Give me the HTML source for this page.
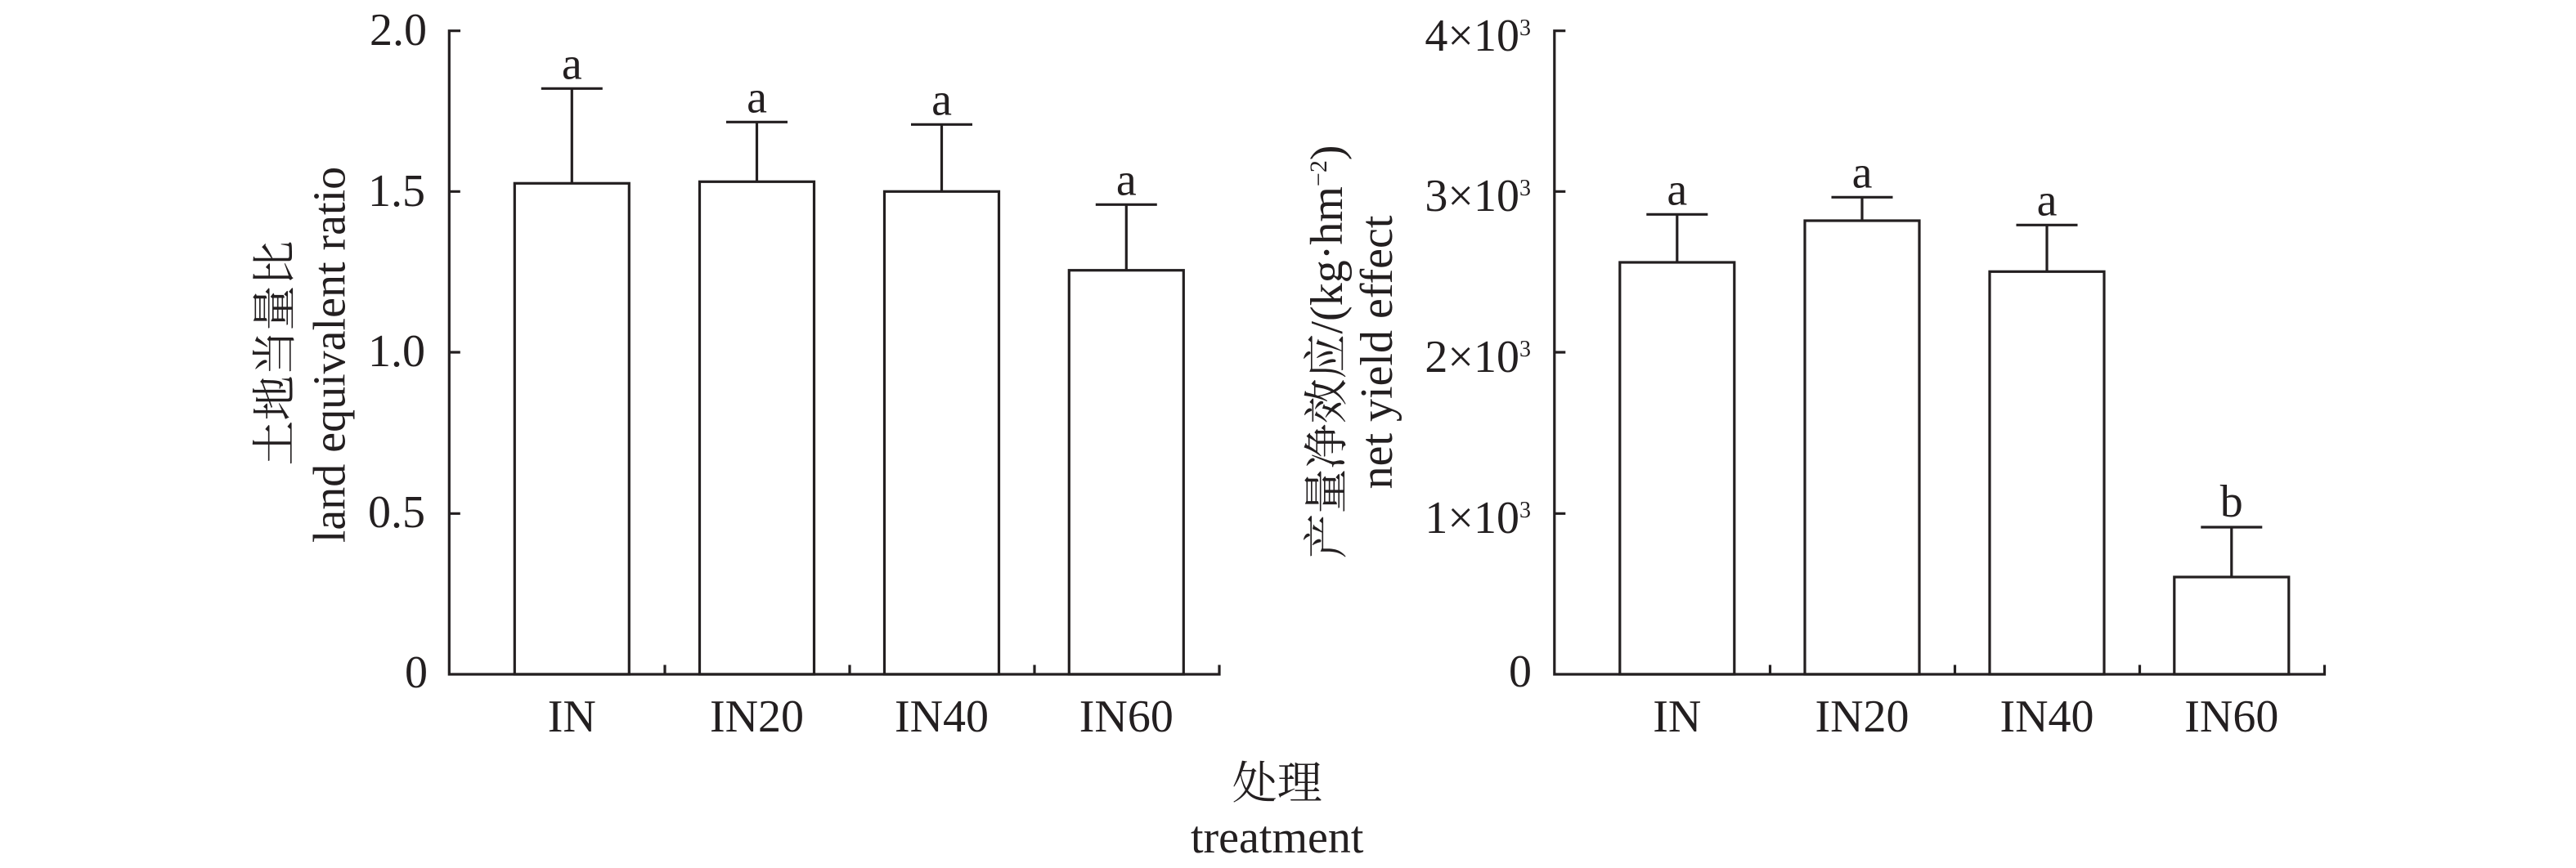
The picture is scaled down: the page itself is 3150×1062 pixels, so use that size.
<!DOCTYPE html>
<html><head><meta charset="utf-8"><style>
html,body{margin:0;padding:0;background:#fff;}
svg{display:block;}
text{font-family:"Liberation Serif","Noto Serif CJK SC",serif;fill:#231f20;font-size:56px;}
.cjk{font-size:55px;}
</style></head><body>
<svg width="3150" height="1062" viewBox="0 0 3150 1062" xmlns="http://www.w3.org/2000/svg">
<rect x="0" y="0" width="3150" height="1062" fill="#fff"/>
<g stroke="#231f20" stroke-width="3.2" fill="none" stroke-linejoin="miter">
  <!-- Left chart axes -->
  <path d="M563,37.7 H549.3 V825 H1491 V813.5"/>
  <path d="M549.3,234.3 h13.5 M549.3,431 h13.5 M549.3,628.3 h13.5"/>
  <path d="M813,825 v-11.5 M1039,825 v-11.5 M1265,825 v-11.5"/>
  <!-- Left bars -->
  <rect x="629.3" y="224.3" width="140" height="600.7"/>
  <rect x="855.5" y="222.3" width="140" height="602.7"/>
  <rect x="1081.5" y="234.3" width="140" height="590.7"/>
  <rect x="1307.3" y="330.7" width="140" height="494.3"/>
  <path d="M699.3,224.3 V108.3 M661.8,108.3 h75"/>
  <path d="M925.5,222.3 V149.3 M888,149.3 h75"/>
  <path d="M1151.5,234.3 V152.3 M1114,152.3 h75"/>
  <path d="M1377.3,330.7 V250.3 M1339.8,250.3 h75"/>

  <!-- Right chart axes -->
  <path d="M1914.3,37.7 H1900.8 V825 H2842.5 V813.5"/>
  <path d="M1900.8,234.3 h13.5 M1900.8,431 h13.5 M1900.8,628.3 h13.5"/>
  <path d="M2164.5,825 v-11.5 M2390.5,825 v-11.5 M2616.5,825 v-11.5"/>
  <!-- Right bars -->
  <rect x="1980.8" y="321" width="140" height="504"/>
  <rect x="2207" y="270" width="140" height="555"/>
  <rect x="2433" y="332.3" width="140" height="492.7"/>
  <rect x="2658.8" y="706" width="140" height="119"/>
  <path d="M2050.8,321 V262.3 M2013.3,262.3 h75"/>
  <path d="M2277,270 V241.3 M2239.5,241.3 h75"/>
  <path d="M2503,332.3 V275.3 M2465.5,275.3 h75"/>
  <path d="M2728.8,706 V645 M2691.3,645 h75"/>
</g>

<!-- Left y tick labels -->
<g text-anchor="end">
  <text x="522" y="55">2.0</text>
  <text x="520" y="252">1.5</text>
  <text x="520" y="448">1.0</text>
  <text x="520" y="645">0.5</text>
  <text x="523" y="841">0</text>
</g>

<!-- Left significance letters -->
<g text-anchor="middle">
  <text x="699.3" y="96.5">a</text>
  <text x="925.5" y="137.5">a</text>
  <text x="1151.5" y="140.5">a</text>
  <text x="1377.3" y="238.5">a</text>
</g>

<!-- Left x tick labels -->
<g text-anchor="middle">
  <text x="699.3" y="895">IN</text>
  <text x="925.5" y="895">IN20</text>
  <text x="1151.5" y="895">IN40</text>
  <text x="1377.3" y="895">IN60</text>
</g>

<!-- Left y label -->
<text class="cjk" text-anchor="middle" transform="translate(355,432) rotate(-90)">土地当量比</text>
<text text-anchor="middle" transform="translate(421.5,434) rotate(-90)">land equivalent ratio</text>

<!-- Right y tick labels -->
<g text-anchor="end">
  <text x="1872" y="62">4×10<tspan font-size="28" dy="-19">3</tspan></text>
  <text x="1872" y="258">3×10<tspan font-size="28" dy="-19">3</tspan></text>
  <text x="1872" y="455">2×10<tspan font-size="28" dy="-19">3</tspan></text>
  <text x="1872" y="652">1×10<tspan font-size="28" dy="-19">3</tspan></text>
  <text x="1873" y="840">0</text>
</g>

<!-- Right significance letters -->
<g text-anchor="middle">
  <text x="2050.8" y="250.5">a</text>
  <text x="2277" y="229.5">a</text>
  <text x="2503" y="263.5">a</text>
  <text x="2728.8" y="632">b</text>
</g>

<!-- Right x tick labels -->
<g text-anchor="middle">
  <text x="2050.8" y="895">IN</text>
  <text x="2277" y="895">IN20</text>
  <text x="2503" y="895">IN40</text>
  <text x="2728.8" y="895">IN60</text>
</g>

<!-- Right y label -->
<text text-anchor="middle" transform="translate(1641,430.5) rotate(-90)"><tspan font-size="55">产量净效应</tspan>/(kg·hm<tspan font-size="30" dy="-19">−2</tspan><tspan dy="19">)</tspan></text>
<text text-anchor="middle" transform="translate(1702,431) rotate(-90)">net yield effect</text>

<!-- Shared x label -->
<text class="cjk" text-anchor="middle" x="1561.7" y="977">处理</text>
<text text-anchor="middle" x="1561.7" y="1043">treatment</text>
</svg>
</body></html>
